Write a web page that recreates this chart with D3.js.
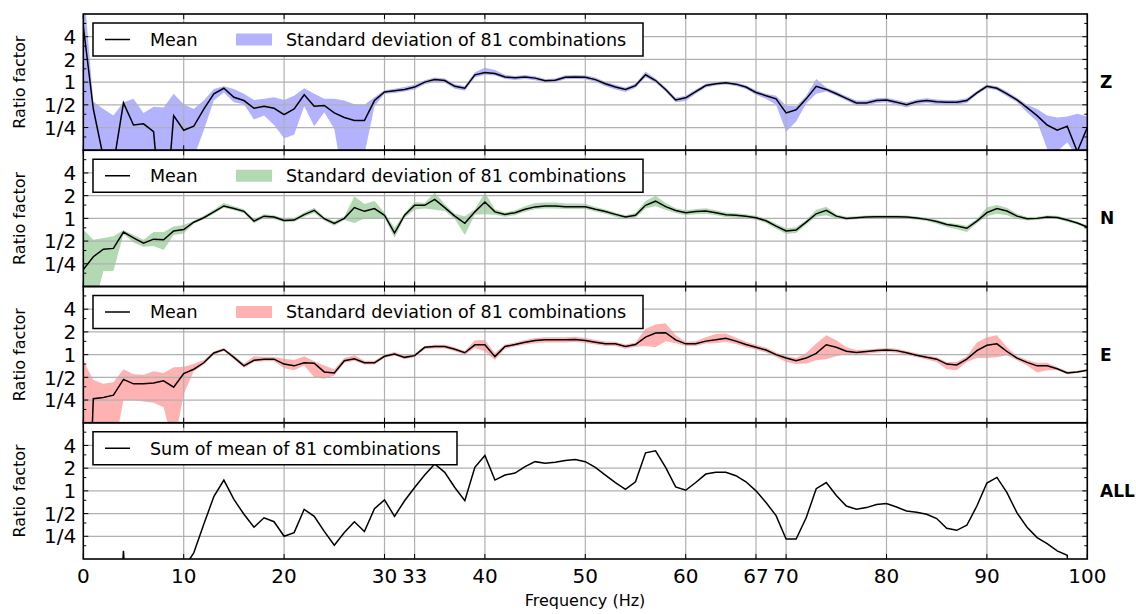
<!DOCTYPE html>
<html><head><meta charset="utf-8">
<script src="https://cdn.jsdelivr.net/npm/d3@7"></script>
<style>body{margin:0;background:#fff} text{font-family:"DejaVu Sans",sans-serif;fill:#000}</style>
</head><body><svg id="c" width="1136" height="614"></svg>
<script>
const freq = [0,1,2,3,4,5,6,7,8,9,10,11,12,13,14,15,16,17,18,19,20,21,22,23,24,25,26,27,28,29,30,31,32,33,34,35,36,37,38,39,40,41,42,43,44,45,46,47,48,49,50,51,52,53,54,55,56,57,58,59,60,61,62,63,64,65,66,67,68,69,70,71,72,73,74,75,76,77,78,79,80,81,82,83,84,85,86,87,88,89,90,91,92,93,94,95,96,97,98,99,100];

const zMean = [5.5,0.44,0.1,0.08,0.53,0.27,0.28,0.22,0.008,0.36,0.23,0.26,0.44,0.70,0.83,0.63,0.57,0.45,0.48,0.45,0.37,0.44,0.68,0.48,0.49,0.39,0.34,0.31,0.31,0.57,0.74,0.77,0.80,0.86,1.0,1.08,1.05,0.88,0.83,1.25,1.34,1.3,1.17,1.14,1.17,1.13,1.04,1.06,1.16,1.17,1.16,1.08,0.95,0.86,0.8,0.9,1.25,1.05,0.8,0.58,0.62,0.75,0.9,0.95,0.98,0.94,0.86,0.73,0.66,0.6,0.39,0.43,0.6,0.88,0.8,0.7,0.61,0.53,0.53,0.57,0.58,0.54,0.5,0.55,0.57,0.55,0.54,0.54,0.57,0.72,0.88,0.83,0.7,0.58,0.46,0.36,0.27,0.23,0.26,0.12,0.25];
const zLow = [0.001,0.001,0.001,0.001,0.001,0.001,0.001,0.001,0.001,0.001,0.001,0.1,0.23,0.57,0.73,0.54,0.51,0.32,0.36,0.27,0.18,0.2,0.48,0.26,0.4,0.24,0.04,0.04,0.11,0.48,0.70,0.72,0.75,0.8,0.94,1.0,0.98,0.82,0.77,1.15,1.25,1.22,1.1,1.07,1.1,1.06,0.98,1.0,1.09,1.1,1.09,1.01,0.88,0.8,0.74,0.84,1.16,0.98,0.75,0.54,0.56,0.7,0.85,0.9,0.93,0.89,0.81,0.68,0.6,0.5,0.22,0.3,0.52,0.7,0.75,0.66,0.57,0.49,0.49,0.53,0.54,0.5,0.46,0.51,0.53,0.51,0.5,0.5,0.53,0.68,0.83,0.78,0.65,0.54,0.4,0.3,0.13,0.12,0.16,0.1,0.1];
const zHigh = [21,0.55,0.44,0.36,0.54,0.6,0.39,0.47,0.46,0.70,0.51,0.44,0.57,0.81,0.88,0.81,0.7,0.58,0.6,0.63,0.58,0.66,0.83,0.7,0.6,0.6,0.57,0.51,0.5,0.63,0.78,0.82,0.86,0.92,1.06,1.15,1.12,0.94,0.89,1.35,1.55,1.45,1.25,1.21,1.24,1.2,1.1,1.12,1.23,1.24,1.23,1.15,1.01,0.92,0.85,0.96,1.38,1.12,0.85,0.62,0.66,0.8,0.95,1.0,1.03,0.99,0.91,0.78,0.7,0.66,0.49,0.48,0.66,1.1,0.85,0.75,0.65,0.57,0.57,0.61,0.62,0.58,0.54,0.59,0.61,0.59,0.58,0.58,0.61,0.76,0.93,0.88,0.75,0.62,0.5,0.44,0.36,0.34,0.35,0.38,0.35];

const nMean = [0.21,0.31,0.39,0.4,0.66,0.55,0.47,0.53,0.52,0.68,0.71,0.89,1.02,1.22,1.46,1.35,1.24,0.92,1.07,1.04,0.94,0.95,1.12,1.28,0.99,0.86,1.0,1.39,1.24,1.35,1.1,0.64,1.1,1.49,1.49,1.79,1.39,1.07,0.86,1.22,1.65,1.22,1.13,1.19,1.32,1.42,1.46,1.46,1.43,1.43,1.43,1.32,1.23,1.13,1.04,1.1,1.49,1.69,1.43,1.27,1.19,1.23,1.25,1.19,1.12,1.1,1.07,1.02,0.93,0.79,0.68,0.7,0.89,1.15,1.28,1.07,1.0,1.02,1.04,1.05,1.05,1.05,1.04,1.01,0.97,0.91,0.83,0.79,0.74,0.92,1.19,1.35,1.25,1.07,0.99,1.0,1.04,1.03,0.95,0.87,0.77];
const nLow = [0.001,0.06,0.2,0.2,0.62,0.48,0.42,0.43,0.38,0.6,0.63,0.85,0.97,1.15,1.38,1.28,1.17,0.86,1.01,0.98,0.89,0.9,1.05,1.18,0.93,0.8,0.95,0.87,1.0,1.0,1.02,0.55,1.02,1.3,1.35,1.3,1.25,0.98,0.6,1.12,1.13,1.12,1.05,1.1,1.22,1.32,1.35,1.35,1.33,1.33,1.33,1.23,1.15,1.05,0.97,1.02,1.35,1.45,1.3,1.18,1.1,1.13,1.15,1.1,1.04,1.02,1.0,0.96,0.87,0.73,0.62,0.64,0.83,1.05,1.1,1.0,0.95,0.97,0.99,1.0,1.0,1.0,0.99,0.96,0.92,0.85,0.77,0.72,0.66,0.86,1.07,1.15,1.1,0.98,0.94,0.95,0.99,0.98,0.9,0.83,0.73];
const nHigh = [0.71,0.52,0.55,0.58,0.7,0.6,0.52,0.66,0.66,0.78,0.82,0.93,1.08,1.3,1.6,1.45,1.32,0.98,1.13,1.1,1.0,1.01,1.2,1.38,1.05,0.92,1.07,1.95,1.55,1.7,1.2,0.75,1.18,1.65,1.6,2.2,1.55,1.15,1.07,1.32,2.2,1.32,1.2,1.28,1.45,1.6,1.62,1.62,1.58,1.58,1.56,1.42,1.31,1.2,1.1,1.18,1.7,2.0,1.6,1.36,1.28,1.33,1.36,1.28,1.2,1.17,1.13,1.08,0.99,0.85,0.74,0.76,0.95,1.3,1.43,1.13,1.05,1.07,1.09,1.1,1.1,1.1,1.09,1.06,1.02,0.96,0.88,0.84,0.8,0.98,1.4,1.5,1.38,1.15,1.04,1.05,1.09,1.08,1.0,0.91,0.81];

const eMean = [0.0001,0.26,0.27,0.29,0.47,0.41,0.41,0.42,0.45,0.37,0.56,0.64,0.78,1.05,1.17,0.92,0.71,0.84,0.87,0.87,0.75,0.71,0.78,0.77,0.59,0.57,0.83,0.88,0.78,0.78,0.95,1.02,0.92,0.97,1.25,1.28,1.28,1.18,1.06,1.35,1.35,0.94,1.28,1.36,1.46,1.54,1.57,1.57,1.57,1.59,1.54,1.46,1.39,1.39,1.28,1.36,1.71,1.93,1.95,1.57,1.39,1.39,1.51,1.57,1.65,1.51,1.36,1.25,1.15,1.0,0.9,0.83,0.9,1.04,1.35,1.25,1.11,1.07,1.1,1.13,1.15,1.13,1.06,0.98,0.92,0.87,0.75,0.73,0.87,1.13,1.33,1.39,1.1,0.9,0.79,0.71,0.71,0.65,0.57,0.59,0.62];
const eLow = [0.001,0.001,0.001,0.05,0.25,0.25,0.24,0.23,0.2,0.06,0.3,0.6,0.74,1.0,1.12,0.87,0.67,0.8,0.82,0.82,0.66,0.62,0.72,0.5,0.48,0.53,0.78,0.83,0.74,0.74,0.9,0.97,0.87,0.92,1.18,1.21,1.21,1.11,1.0,1.22,1.1,0.85,1.2,1.28,1.36,1.42,1.45,1.45,1.45,1.47,1.43,1.36,1.3,1.3,1.2,1.27,1.3,1.25,1.5,1.42,1.3,1.3,1.4,1.42,1.48,1.38,1.25,1.16,1.07,0.93,0.8,0.75,0.76,0.84,0.87,0.95,1.02,1.0,1.03,1.06,1.08,1.06,0.99,0.92,0.86,0.8,0.64,0.62,0.8,0.9,0.9,0.92,0.98,0.84,0.72,0.58,0.62,0.62,0.55,0.57,0.6];
const eHigh = [0.83,0.46,0.41,0.43,0.64,0.55,0.54,0.6,0.57,0.68,0.69,0.75,0.85,1.1,1.22,0.97,0.76,0.95,0.93,0.93,0.88,0.85,0.95,0.82,0.72,0.64,0.9,0.98,0.83,0.83,1.0,1.08,0.97,1.02,1.3,1.35,1.35,1.25,1.12,1.55,1.56,1.05,1.36,1.45,1.56,1.66,1.7,1.7,1.7,1.72,1.66,1.57,1.49,1.48,1.36,1.45,2.2,2.5,2.6,1.8,1.48,1.5,1.7,1.88,1.9,1.68,1.48,1.35,1.24,1.07,0.96,0.9,1.05,1.4,1.8,1.55,1.25,1.15,1.17,1.2,1.22,1.2,1.12,1.04,0.98,0.92,0.8,0.8,0.95,1.45,1.7,1.8,1.25,0.96,0.85,0.78,0.78,0.68,0.6,0.61,0.64];

const allSum = [0.001,0.001,0.001,0.001,0.16,0.001,0.001,0.001,0.001,0.001,0.095,0.15,0.36,0.84,1.39,0.77,0.49,0.33,0.44,0.39,0.25,0.28,0.57,0.46,0.29,0.19,0.28,0.39,0.29,0.58,0.76,0.46,0.74,1.11,1.62,2.27,1.76,1.11,0.74,2.05,2.94,1.39,1.62,1.72,2.1,2.44,2.32,2.4,2.52,2.6,2.44,2.05,1.62,1.29,1.05,1.32,3.19,3.39,2.05,1.13,1.02,1.29,1.67,1.76,1.76,1.59,1.32,1.0,0.7,0.47,0.23,0.23,0.44,1.07,1.29,0.87,0.63,0.57,0.6,0.66,0.68,0.61,0.54,0.52,0.49,0.43,0.32,0.3,0.35,0.63,1.27,1.51,0.95,0.51,0.33,0.24,0.2,0.16,0.14,0.001,0.001];

const xTicks = [0,10,20,30,33,40,50,60,67,70,80,90,100];
const yTicks = [0.25,0.5,1,2,4];
const yTickLabels = ["1/4","1/2","1","2","4"];
const yMinorTicks = [0.1875,0.375,0.75,1.5,3,6];
const panelNames = ["Z","N","E","ALL"];
const bandColors = ["#0000ff","#008000","#ff0000"];
const legendMean = "Mean";
const legendStd = "Standard deviation of 81 combinations";
const legendSum = "Sum of mean of 81 combinations";
const xLabel = "Frequency (Hz)";
const yLabel = "Ratio factor";

const svg = d3.select("#c");
const L = 83.3, R = 1087.3, T0 = 14, PH = 136.25;
const x = d3.scaleLinear().domain([0,100]).range([L,R]);

const panels = [
  {mean:zMean, low:zLow, high:zHigh},
  {mean:nMean, low:nLow, high:nHigh},
  {mean:eMean, low:eLow, high:eHigh},
  {mean:allSum}
];

panels.forEach((p,i)=>{
  const top = T0 + i*PH, bot = top + PH;
  const y = d3.scaleLog().base(2).domain([0.125,8]).range([bot,top]);
  const g = svg.append("g");
  const cid = "clip"+i;
  svg.append("defs").append("clipPath").attr("id",cid)
    .append("rect").attr("x",L).attr("y",top).attr("width",R-L).attr("height",PH);
  const cg = g.append("g").attr("clip-path",`url(#${cid})`);
  const clampLog = v => Math.max(v, 1e-6);
  if (p.low) {
    const area = d3.area().x((d,j)=>x(freq[j])).y0((d,j)=>y(clampLog(p.low[j]))).y1((d,j)=>y(clampLog(p.high[j])));
    cg.append("path").datum(p.mean).attr("d",area).attr("fill",bandColors[i]).attr("fill-opacity",0.3).attr("stroke","none");
  }
  cg.selectAll(".vg").data(xTicks).enter().append("line")
    .attr("x1",d=>x(d)).attr("x2",d=>x(d)).attr("y1",top).attr("y2",bot)
    .attr("stroke","#b0b0b0").attr("stroke-width",1.2);
  cg.selectAll(".hg").data(yTicks).enter().append("line")
    .attr("x1",L).attr("x2",R).attr("y1",d=>y(d)).attr("y2",d=>y(d))
    .attr("stroke","#b0b0b0").attr("stroke-width",1.2);
  const line = d3.line().x((d,j)=>x(freq[j])).y(d=>y(clampLog(d)));
  cg.append("path").datum(p.mean).attr("d",line).attr("fill","none").attr("stroke","#000").attr("stroke-width",1.5).attr("stroke-linejoin","miter");
  xTicks.forEach(t=>{
    g.append("line").attr("x1",x(t)).attr("x2",x(t)).attr("y1",bot).attr("y2",bot-5).attr("stroke","#000");
    g.append("line").attr("x1",x(t)).attr("x2",x(t)).attr("y1",top).attr("y2",top+5).attr("stroke","#000");
  });
  yTicks.forEach(t=>{
    g.append("line").attr("x1",L).attr("x2",L+5).attr("y1",y(t)).attr("y2",y(t)).attr("stroke","#000");
    g.append("line").attr("x1",R).attr("x2",R-5).attr("y1",y(t)).attr("y2",y(t)).attr("stroke","#000");
  });
  yMinorTicks.forEach(t=>{
    g.append("line").attr("x1",L).attr("x2",L+3).attr("y1",y(t)).attr("y2",y(t)).attr("stroke","#000");
    g.append("line").attr("x1",R).attr("x2",R-3).attr("y1",y(t)).attr("y2",y(t)).attr("stroke","#000");
  });
  g.selectAll(".yl").data(yTicks).enter().append("text")
    .attr("x",L-7).attr("y",d=>y(d)).attr("dy","0.36em").attr("text-anchor","end")
    .style("font-size","20px").text((d,k)=>yTickLabels[k]);
  g.append("rect").attr("x",L).attr("y",top).attr("width",R-L).attr("height",PH)
    .attr("fill","none").attr("stroke","#000").attr("stroke-width",1.6);
  g.append("text").attr("transform",`translate(25,${top+PH/2}) rotate(-90)`)
    .attr("text-anchor","middle").style("font-size","16px").text(yLabel);
  g.append("text").attr("x",1100).attr("y",y(1)).attr("dy","0.36em")
    .style("font-size","17px").style("font-weight","bold").text(panelNames[i]);
  const ly = top + 9, lh = 33, lc = ly + lh/2;
  const lw = p.low ? 550 : 364;
  g.append("rect").attr("x",93).attr("y",ly).attr("width",lw).attr("height",lh)
    .attr("fill","#fff").attr("stroke","#000").attr("stroke-width",1.5);
  g.append("line").attr("x1",105).attr("x2",130).attr("y1",lc).attr("y2",lc).attr("stroke","#000").attr("stroke-width",1.5);
  g.append("text").attr("x",150).attr("y",lc).attr("dy","0.36em").style("font-size","17.5px").text(p.low ? legendMean : legendSum);
  if (p.low) {
    g.append("rect").attr("x",236).attr("y",lc-6).attr("width",36).attr("height",12)
      .attr("fill",bandColors[i]).attr("fill-opacity",0.3);
    g.append("text").attr("x",286).attr("y",lc).attr("dy","0.36em").style("font-size","17.5px").text(legendStd);
  }
  if (i === panels.length-1) {
    g.selectAll(".xl").data(xTicks).enter().append("text")
      .attr("x",d=>x(d)).attr("y",583).attr("text-anchor","middle").style("font-size","20px").text(d=>d);
    g.append("text").attr("x",585).attr("y",606).attr("text-anchor","middle").style("font-size","16px").text(xLabel);
  }
});
</script></body></html>
